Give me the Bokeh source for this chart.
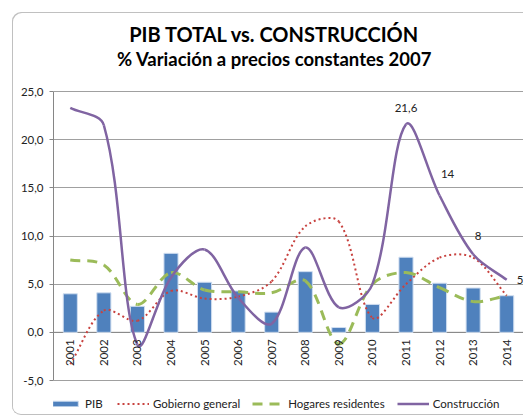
import numpy as np
from bokeh.plotting import figure
from bokeh.models import (Range1d, FixedTicker, CustomJSTickFormatter, Label,
                          Legend, LegendItem, Span)
from bokeh.core.properties import value
from bokeh.embed import file_html
from bokeh.resources import INLINE

# ---------------- data ----------------
years = [str(y) for y in range(2001, 2015)]
pib = [4.0, 4.1, 2.7, 8.2, 5.2, 4.3, 2.1, 6.3, 0.5, 2.9, 7.8, 5.1, 4.6, 3.8]
gobierno = [-3.3, 2.25, 1.2, 4.3, 3.5, 3.7, 5.3, 11.0, 11.5, 1.5, 5.0, 7.75, 7.75, 3.8]
hogares = [7.5, 7.0, 2.9, 6.2, 4.4, 4.2, 4.1, 5.35, -1.2, 5.0, 6.2, 4.65, 3.2, 3.8]
construccion = [23.3, 21.5, -1.3, 5.7, 8.6, 3.6, 0.9, 8.8, 2.6, 5.0, 21.6, 14.2, 8.1, 5.45]
label_idx = [10, 11, 12, 13]
label_texts = ["21,6", "14", "8", "5"]
y_ticks = [-5, 0, 5, 10, 15, 20, 25]
y_lo, y_hi = -5, 25
title_main = "PIB TOTAL vs. CONSTRUCCIÓN"
title_sub = "% Variación a precios constantes 2007"

# ---------------- layout (pixels) ----------------
W, H = 511, 403
ML = 41
TOP_PAD = 79      # px from figure top to the 25 gridline
BOT_PAD = 35      # px from the -5 line to figure bottom
PLOT_H = H - TOP_PAD - BOT_PAD
FW = W - ML
FONT = "Lato"
ppu = PLOT_H / (y_hi - y_lo)            # pixels per y unit
y_min = y_lo - BOT_PAD / ppu
y_max = y_hi + TOP_PAD / ppu


def y_at(px_from_top):
    """data y for a position given in px from the figure top"""
    return y_hi - (px_from_top - TOP_PAD) / ppu


xi = list(range(len(years)))

p = figure(width=W, height=H, output_backend="svg", toolbar_location=None,
           x_range=Range1d(-0.5, len(years) - 0.5), y_range=Range1d(y_min, y_max),
           x_axis_location=None, title=None,
           min_border_left=ML, min_border_right=0, min_border_top=0,
           min_border_bottom=0)
p.margin = (12, 0, 0, 12)
p.background_fill_color = None
p.border_fill_color = None
p.outline_line_color = None
p.styles = {"background": "white",
            "border-top-left-radius": "9px",
            "border-bottom-left-radius": "9px",
            "box-shadow": "inset 1px 1px 0 #c0c0c0, inset 0 -1px 0 #c0c0c0"}

# y axis
p.yaxis.ticker = FixedTicker(ticks=y_ticks)
p.yaxis.bounds = (y_lo, y_hi)
p.yaxis.formatter = CustomJSTickFormatter(code="return tick.toFixed(1).replace('.', ',');")
p.yaxis.axis_line_color = "#868686"
p.yaxis.major_tick_line_color = "#868686"
p.yaxis.major_tick_out = 4
p.yaxis.major_tick_in = 0
p.yaxis.minor_tick_line_color = None
p.yaxis.major_label_standoff = 6
p.yaxis.major_label_text_font = FONT
p.yaxis.major_label_text_font_size = "11.5px"
p.yaxis.major_label_text_color = "#222222"
p.ygrid.ticker = FixedTicker(ticks=y_ticks)
p.ygrid.bounds = (y_lo, y_hi)
p.ygrid.grid_line_color = "#a0a0a0"
p.xgrid.visible = False

# titles
xc = (len(years) - 1) / 2.0
p.add_layout(Label(x=xc, y=y_at(21.5), text=title_main, text_align="center",
                   text_baseline="alphabetic", x_offset=-14, text_font=FONT,
                   text_font_size="20px", text_font_style="bold", text_color="black"))
p.add_layout(Label(x=xc, y=y_at(46), text=title_sub, text_align="center",
                   text_baseline="alphabetic", x_offset=-14, text_font=FONT,
                   text_font_size="18.5px", text_font_style="bold", text_color="black"))

# zero line
p.add_layout(Span(location=0, dimension="width", line_color="#868686",
                  line_width=1, level="underlay"))

# bars
bars = p.vbar(x=xi, top=pib, bottom=0, width=0.42, fill_color="#4F81BD",
              line_color="#d0def0", line_width=1)

# smoothed lines (Excel-like bezier smoothing in screen space)
sxs, sys_ = FW / len(years), ppu
T = 1.0 / 3.0


def smooth(vals):
    P = np.stack([np.arange(len(vals)) * sxs, np.array(vals, float) * sys_], 1)
    n = len(P)
    cin = np.zeros_like(P)
    cout = np.zeros_like(P)
    for i in range(n):
        prev = P[max(i - 1, 0)]
        nxt = P[min(i + 1, n - 1)]
        d = nxt - prev
        L1 = np.hypot(*(P[i] - prev))
        L2 = np.hypot(*(nxt - P[i]))
        tot = L1 + L2 if (L1 + L2) > 0 else 1.0
        cin[i] = P[i] - d * T * L1 / tot
        cout[i] = P[i] + d * T * L2 / tot
    sc = np.array([sxs, sys_])
    P, cin, cout = P / sc, cin / sc, cout / sc
    return dict(x0=P[:-1, 0], y0=P[:-1, 1], x1=P[1:, 0], y1=P[1:, 1],
                cx0=cout[:-1, 0], cy0=cout[:-1, 1], cx1=cin[1:, 0], cy1=cin[1:, 1])


styles = {
    "gob": dict(line_color="#C8423F", line_width=2, line_dash="2 3"),
    "hog": dict(line_color="#9BBB59", line_width=3, line_dash="10 7"),
    "con": dict(line_color="#8064A2", line_width=2.5),
}
p.bezier(**smooth(gobierno), **styles["gob"])
p.bezier(**smooth(hogares), **styles["hog"])
p.bezier(**smooth(construccion), **styles["con"])

# year labels at the zero line
p.text(x=xi, y=[0] * len(xi), text=years, angle=np.pi / 2, text_align="right",
       text_baseline="middle", y_offset=7, text_font=value(FONT),
       text_font_size="11.5px", text_color="#222222")

# data labels for Construcción
lx_off = [0, 8, 5, 10]
ly_off = [-16, -22, -18, 0]
lalign = ["center", "center", "center", "left"]
p.text(x=[xi[i] for i in label_idx], y=[construccion[i] for i in label_idx],
       text=label_texts, x_offset=lx_off, y_offset=ly_off, text_align=lalign,
       text_baseline="middle", text_font=value(FONT), text_font_size="11.5px",
       text_color="#222222")

# legend (proxy renderers carrying the styles; NaN data draws nothing in the plot)
r_gob = p.line(x=[np.nan], y=[np.nan], **styles["gob"])
r_hog = p.line(x=[np.nan], y=[np.nan], **styles["hog"])
r_con = p.line(x=[np.nan], y=[np.nan], **styles["con"])
legend = Legend(items=[LegendItem(label="PIB", renderers=[bars]),
                       LegendItem(label="Gobierno general", renderers=[r_gob]),
                       LegendItem(label="Hogares residentes", renderers=[r_hog]),
                       LegendItem(label="Construcción", renderers=[r_con])],
                orientation="horizontal", location=(-4, 5),
                glyph_width=32, glyph_height=7, label_standoff=4, spacing=12,
                padding=0, margin=0, label_height=7,
                label_text_font=FONT, label_text_font_size="11.5px",
                label_text_color="#222222", border_line_color=None,
                background_fill_color=None)
p.add_layout(legend)

open("out.html", "w").write(file_html(p, INLINE))
